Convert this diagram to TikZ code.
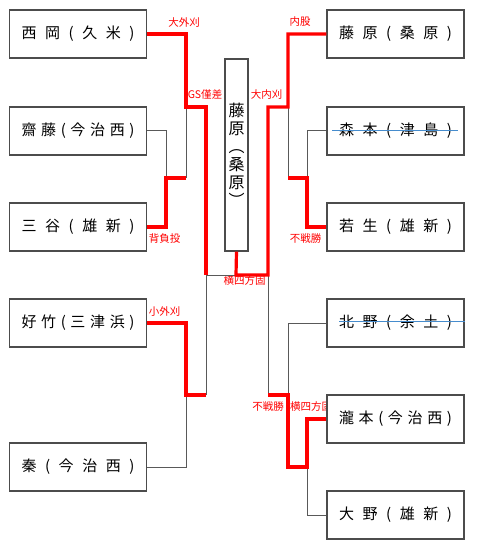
\documentclass[tikz,border=0pt]{standalone}
\usepackage{fontspec}
\newfontfamily\cjk{Noto Sans CJK JP}
\usetikzlibrary{calc}
\definecolor{strikeblue}{RGB}{70,140,205}
\newcommand\jname[1]{\makebox[113pt][s]{#1}}
\tikzset{
  namebox/.style={draw=black!70, line width=1.1pt, fill=white, minimum width=137pt, minimum height=48pt, inner sep=0pt, font=\cjk\fontsize{15}{15}\selectfont},
  champ/.style={draw=black!70, line width=1.1pt, fill=white, minimum width=23pt, minimum height=192pt, inner sep=0pt, align=center, font=\cjk\fontsize{16}{18}\selectfont},
  win/.style={draw=red, line width=3.2pt},
  lose/.style={draw=black!65, line width=1pt},
  res/.style={text=red, font=\cjk\fontsize{10.5}{10.5}\selectfont, inner sep=0pt},
  strike/.style={draw=strikeblue, line width=1pt}
}
\begin{document}
\begin{tikzpicture}[x=1pt,y=-1pt]
\useasboundingbox (0,0) rectangle (478,548);
% result labels
\node[res] (t1) at (184,22) {大外刈};
\node[res] (t2) at (205,95) {GS僅差};
\node[res] (t3) at (164.5,239) {背負投};
\node[res] (t4) at (164.5,312) {小外刈};
\node[res] (t5) at (244.5,281) {横四方固};
\node[res] (t6) at (300,22) {内股};
\node[res] (t7) at (266.5,95) {大内刈};
\node[res] (t8) at (305.5,239) {不戦勝};
\node[res] (t9) at (268,407) {不戦勝};
\node[res,anchor=west] (t10) at (290,407) {横四方固};
% left boxes
\node[namebox] (L1) at (78,34) {\jname{西\hfill 岡\hfill (\hfill 久\hfill 米\hfill )}};
\node[namebox] (L2) at (78,131) {\jname{齋\hfill 藤\hfill (\hfill 今\hfill 治\hfill 西\hfill )}};
\node[namebox] (L3) at (78,227) {\jname{三\hfill 谷\hfill (\hfill 雄\hfill 新\hfill )}};
\node[namebox] (L4) at (78,323) {\jname{好\hfill 竹\hfill (\hfill 三\hfill 津\hfill 浜\hfill )}};
\node[namebox] (L5) at (78,467) {\jname{秦\hfill (\hfill 今\hfill 治\hfill 西\hfill )}};
% right boxes
\node[namebox] (R1) at (395.5,34) {\jname{藤\hfill 原\hfill (\hfill 桑\hfill 原\hfill )}};
\node[namebox] (R2) at (395.5,131) {\jname{森\hfill 本\hfill (\hfill 津\hfill 島\hfill )}};
\node[namebox] (R3) at (395.5,227) {\jname{若\hfill 生\hfill (\hfill 雄\hfill 新\hfill )}};
\node[namebox] (R4) at (395.5,323) {\jname{北\hfill 野\hfill (\hfill 余\hfill 土\hfill )}};
\node[namebox] (R5) at (395.5,419) {\jname{瀧\hfill 本\hfill (\hfill 今\hfill 治\hfill 西\hfill )}};
\node[namebox] (R6) at (395.5,515) {\jname{大\hfill 野\hfill (\hfill 雄\hfill 新\hfill )}};
% champion
\node[champ] (C) at (236.5,155) {藤\\原\\︵\\桑\\原\\︶};
% strike-through
\draw[strike] ($(R2.west)+(6,0)$) -- ($(R2.east)+(-7,0)$);
\draw[strike] ($(R4.west)+(13,-2)$) -- ($(R4.east)+(0,-2)$);
% junction coordinates
\coordinate (a1) at (186,34);
\coordinate (a2) at (186,107);
\coordinate (b1) at (166,131);
\coordinate (b2) at (166,178);
\coordinate (b3) at (166,227);
\coordinate (b4) at (186,178);
\coordinate (c1) at (206,107);
\coordinate (c2) at (206,275);
\coordinate (d1) at (186,323);
\coordinate (d2) at (186,395);
\coordinate (d3) at (206,395);
\coordinate (d4) at (186,467);
\coordinate (f1) at (236,275);
\coordinate (f2) at (268,275);
\coordinate (f3) at (268,107);
\coordinate (f4) at (288,107);
\coordinate (f5) at (288,34);
\coordinate (g1) at (307,131);
\coordinate (g2) at (307,178);
\coordinate (g3) at (288,178);
\coordinate (g4) at (307,227);
\coordinate (h1) at (268,395);
\coordinate (h2) at (288,395);
\coordinate (h3) at (288,323);
\coordinate (h4) at (288,467);
\coordinate (h5) at (307,467);
\coordinate (h6) at (307,419);
\coordinate (h7) at (307,515);
% losing lines
\draw[lose] (L2.east) -- (b1) -- (b2);
\draw[lose] (b4) -- (a2);
\draw[lose] (L5.east) -- (d4) -- (d2);
\draw[lose] (d3) -- (c2) -- (f1);
\draw[lose] (f2) -- (h1);
\draw[lose] (R2.west) -- (g1) -- (g2);
\draw[lose] (f4) -- (g3);
\draw[lose] (R4.west) -- (h3) -- (h2);
\draw[lose] (R6.west) -- (h7) -- (h5);
% winning lines
\draw[win] (L1.east) -- (a1) -- (a2) -- (c1) -- (c2);
\draw[win] (L3.east) -- (b3) -- (b2) -- (b4);
\draw[win] (L4.east) -- (d1) -- (d2) -- (d3);
\draw[win] (C.south) -- (f1) -- (f2) -- (f3) -- (f4) -- (f5) -- (R1.west);
\draw[win] (g3) -- (g2) -- (g4) -- (R3.west);
\draw[win] (h1) -- (h2) -- (h4) -- (h5) -- (h6) -- (R5.west);
\end{tikzpicture}
\end{document}
